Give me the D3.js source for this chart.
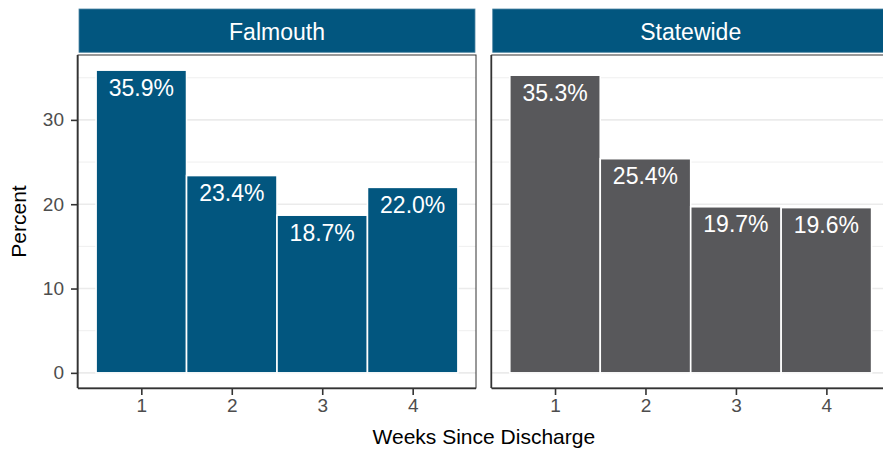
<!DOCTYPE html>
<html>
<head>
<meta charset="utf-8">
<script src="https://cdn.jsdelivr.net/npm/d3@7"></script>
<style>
  html, body { margin: 0; padding: 0; background: #fff; }
  svg { display: block; font-family: "Liberation Sans", Arial, sans-serif; }
</style>
</head>
<body>
<svg id="chart" width="883" height="451"></svg>
<script>
// data
const weeks = ['1', '2', '3', '4'];
const regions = ['Falmouth', 'Statewide'];
const falmouthPct = [35.9, 23.4, 18.7, 22.0];
const statewidePct = [35.3, 25.4, 19.7, 19.6];
const yTicks = [0, 10, 20, 30];
const yMinorTicks = [5, 15, 25, 35];
const regionFill = ['#02567f', '#58585b'];

const seriesByRegion = [falmouthPct, statewidePct];

const width = 883, height = 451;
const panelTop = 55, panelBottom = 388;
const panelWidth = 398;
const panelLefts = [78, 491.7];
const stripTop = 9, stripBottom = 52.3;
const stripColor = '#02567f';

const svg = d3.select('#chart');

// shared y scale (ggplot-style 5% expansion)
const yMax = d3.max([...falmouthPct, ...statewidePct]);
const pad = yMax * 0.05;
const y = d3.scaleLinear()
  .domain([-pad, yMax + pad])
  .range([panelBottom, panelTop]);

regions.forEach((region, p) => {
  const left = panelLefts[p];
  const values = seriesByRegion[p];

  const x = d3.scaleLinear()
    .domain([0.3, 4.7])
    .range([left, left + panelWidth]);

  const g = svg.append('g');

  // strip
  g.append('rect')
    .attr('x', left + 1)
    .attr('y', stripTop)
    .attr('width', panelWidth - 2)
    .attr('height', stripBottom - stripTop)
    .attr('fill', stripColor)
    .attr('stroke', '#4f86a3')
    .attr('stroke-width', 0.8);

  g.append('text')
    .attr('x', left + panelWidth / 2)
    .attr('y', (stripTop + stripBottom) / 2 + 1)
    .attr('text-anchor', 'middle')
    .attr('dominant-baseline', 'central')
    .attr('fill', '#fff')
    .attr('font-size', '23px')
    .text(region);

  // grid lines
  g.selectAll(null)
    .data(yMinorTicks)
    .enter()
    .append('line')
    .attr('x1', left)
    .attr('x2', left + panelWidth)
    .attr('y1', d => y(d))
    .attr('y2', d => y(d))
    .attr('stroke', '#ebebeb')
    .attr('stroke-width', 0.8);

  g.selectAll(null)
    .data(yTicks)
    .enter()
    .append('line')
    .attr('x1', left)
    .attr('x2', left + panelWidth)
    .attr('y1', d => y(d))
    .attr('y2', d => y(d))
    .attr('stroke', '#ebebeb')
    .attr('stroke-width', 1.6);

  // bars
  g.selectAll(null)
    .data(values)
    .enter()
    .append('rect')
    .attr('x', (d, i) => x(i + 0.5))
    .attr('width', (d, i) => x(i + 1.5) - x(i + 0.5))
    .attr('y', d => y(d))
    .attr('height', d => y(0) - y(d))
    .attr('fill', regionFill[p])
    .attr('stroke', '#fff')
    .attr('stroke-width', 1.6);

  // labels
  g.selectAll(null)
    .data(values)
    .enter()
    .append('text')
    .attr('x', (d, i) => x(i + 1))
    .attr('y', d => y(d) + 17.5)
    .attr('text-anchor', 'middle')
    .attr('dominant-baseline', 'central')
    .attr('fill', '#fff')
    .attr('font-size', '23px')
    .text(d => d.toFixed(1) + '%');

  // panel border
  g.append('rect')
    .attr('x', left)
    .attr('y', panelTop)
    .attr('width', panelWidth)
    .attr('height', panelBottom - panelTop)
    .attr('fill', 'none')
    .attr('stroke', '#333')
    .attr('stroke-width', 1);

  // x axis
  const xAxis = g.append('g')
    .attr('transform', `translate(0,${panelBottom})`)
    .call(d3.axisBottom(x).tickValues([1, 2, 3, 4]).tickFormat((d, i) => weeks[i]).tickSize(7).tickPadding(4));
  xAxis.select('.domain')
    .attr('d', `M${left},0.5H${left + panelWidth}`)
    .attr('stroke', '#333')
    .attr('stroke-width', 1.6);
  xAxis.selectAll('.tick line').attr('stroke', '#333').attr('stroke-width', 1.6);
  xAxis.selectAll('.tick text')
    .attr('fill', '#4d4d4d')
    .attr('font-size', '19px')
    .attr('font-family', '"Liberation Sans", Arial, sans-serif');

  if (p === 0) {
    const yAxis = g.append('g')
      .attr('transform', `translate(${left},0)`)
      .call(d3.axisLeft(y).tickValues(yTicks).tickSize(7).tickPadding(7));
    yAxis.select('.domain')
      .attr('d', `M-0.5,${panelTop}V${panelBottom}`)
      .attr('stroke', '#333')
      .attr('stroke-width', 1.6);
    yAxis.selectAll('.tick line').attr('stroke', '#333').attr('stroke-width', 1.6);
    yAxis.selectAll('.tick text')
      .attr('fill', '#4d4d4d')
      .attr('font-size', '19px')
      .attr('font-family', '"Liberation Sans", Arial, sans-serif');
  } else {
    g.append('line')
      .attr('x1', left - 0.5).attr('x2', left - 0.5)
      .attr('y1', panelTop).attr('y2', panelBottom)
      .attr('stroke', '#333')
      .attr('stroke-width', 1.6);
  }
});

// axis titles
svg.append('text')
  .attr('x', (panelLefts[0] + panelLefts[1] + panelWidth) / 2)
  .attr('y', 444)
  .attr('text-anchor', 'middle')
  .attr('fill', '#000')
  .attr('font-size', '21px')
  .text('Weeks Since Discharge');

svg.append('text')
  .attr('transform', `translate(26,${(panelTop + panelBottom) / 2}) rotate(-90)`)
  .attr('text-anchor', 'middle')
  .attr('fill', '#000')
  .attr('font-size', '21px')
  .text('Percent');
</script>
</body>
</html>
